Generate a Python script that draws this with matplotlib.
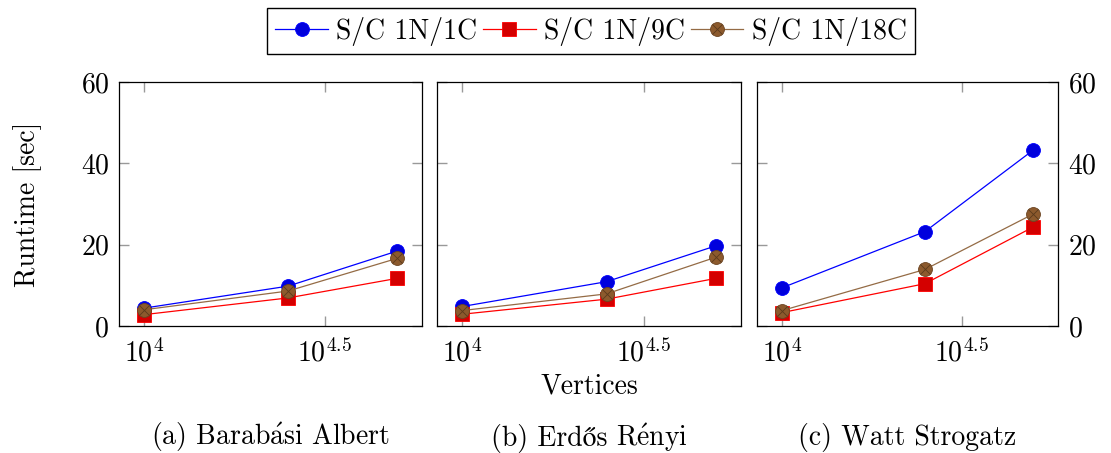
import numpy as np
import matplotlib
matplotlib.use('Agg')
import matplotlib.pyplot as plt
from matplotlib.legend_handler import HandlerTuple
from matplotlib.offsetbox import TextArea, HPacker, AnnotationBbox

plt.rcParams['font.family'] = ['cmr10', 'STIXGeneral']
plt.rcParams['mathtext.fontset'] = 'cm'
plt.rcParams['axes.formatter.use_mathtext'] = True
FS = 20
plt.rcParams['font.size'] = FS

# data
vertices = [10000, 25000, 50000]
# captions in pieces: accented letters drawn through mathtext where cmr10 lacks them
panels = [[r"(a) Barab$\acute{\mathrm{a}}$si Albert"],
          ["(b) Erdős", r"R$\acute{\mathrm{e}}$nyi"],
          ["(c) Watt Strogatz"]]
series = ["S/C 1N/1C", "S/C 1N/9C", "S/C 1N/18C"]
runtime_1c = [[4.4, 9.8, 18.4], [4.8, 10.9, 19.7], [9.4, 23.2, 43.2]]
runtime_9c = [[2.8, 6.9, 11.7], [2.9, 6.6, 11.7], [3.3, 10.4, 24.3]]
runtime_18c = [[4.0, 8.6, 16.6], [3.8, 7.9, 16.9], [3.8, 13.9, 27.5]]

BLUE = '#0000ff'
RED = '#ff0000'
BROWN = '#946b45'

W, H = 1111, 453
fig = plt.figure(figsize=(W / 100, H / 100), dpi=100)

# axes boxes in pixels: left, right
boxes = [(119, 422), (437, 741), (757, 1058)]
top, bottom = 82, 326

lo = np.log10(vertices[0])
hi = np.log10(vertices[-1])
pad = 0.1 * (hi - lo)

for i, (l, r) in enumerate(boxes):
    ax = fig.add_axes([l / W, 1 - bottom / H, (r - l) / W, (bottom - top) / H])
    ax.set_xscale('log')
    ax.set_xlim(10 ** (lo - pad), 10 ** (hi + pad))
    ax.set_ylim(0, 60)
    ax.set_yticks([0, 20, 40, 60])
    ax.set_xticks([1e4, 10 ** 4.5])
    ax.set_xticklabels([r'$10^{4}$', r'$10^{4.5}$'])
    ax.xaxis.set_minor_locator(matplotlib.ticker.NullLocator())
    ax.tick_params(direction='in', length=7, width=1.0, color='#999999',
                   top=True, right=True, labelsize=FS, pad=7)
    ax.tick_params(axis='x', pad=9)
    for s in ax.spines.values():
        s.set_linewidth(0.9)

    l1, = ax.plot(vertices, runtime_1c[i], color=BLUE, lw=0.9, marker='o', ms=10,
                  mfc='#0000dd', mec=BLUE, mew=0.6, label=series[0])
    l2, = ax.plot(vertices, runtime_9c[i], color=RED, lw=0.9, marker='s', ms=9.5,
                  mfc='#d40000', mec=RED, mew=0.6, label=series[1])
    l3, = ax.plot(vertices, runtime_18c[i], color=BROWN, lw=0.9, marker='o', ms=10,
                  mfc='#8c5a2d', mec='#6b4422', mew=0.6, label=series[2])
    l3x, = ax.plot(vertices, runtime_18c[i], ls='none', marker='x', ms=6.5,
                   mec='#5a3a1c', mew=0.6)

    if i == 0:
        ax.set_ylabel('Runtime [sec]', labelpad=28)
        handles = [l1, l2, (l3, l3x)]
    elif i == 1:
        ax.set_yticklabels([])
        ax.set_xlabel('Vertices', labelpad=4)
    else:
        ax.yaxis.tick_right()
        ax.tick_params(axis='y', left=True, right=True, labelleft=False, labelright=True)

    parts = [TextArea(p, textprops=dict(fontsize=FS)) for p in panels[i]]
    cap = HPacker(children=parts, align='baseline', pad=0, sep=6)
    ab = AnnotationBbox(cap, (0.5, -0.455), xycoords=ax.transAxes, frameon=False,
                        box_alignment=(0.5, 0.5), annotation_clip=False)
    ax.add_artist(ab)

fig.legend(handles, series, loc='center', bbox_to_anchor=(591 / W, 1 - 31 / H),
           ncol=3, frameon=True, fancybox=False, edgecolor='black', framealpha=1,
           handlelength=1.9, handletextpad=0.3, columnspacing=0.2, borderpad=0.3,
           handler_map={tuple: HandlerTuple(ndivide=1, pad=0)}, fontsize=FS)

fig.savefig('out.png', dpi=100)
